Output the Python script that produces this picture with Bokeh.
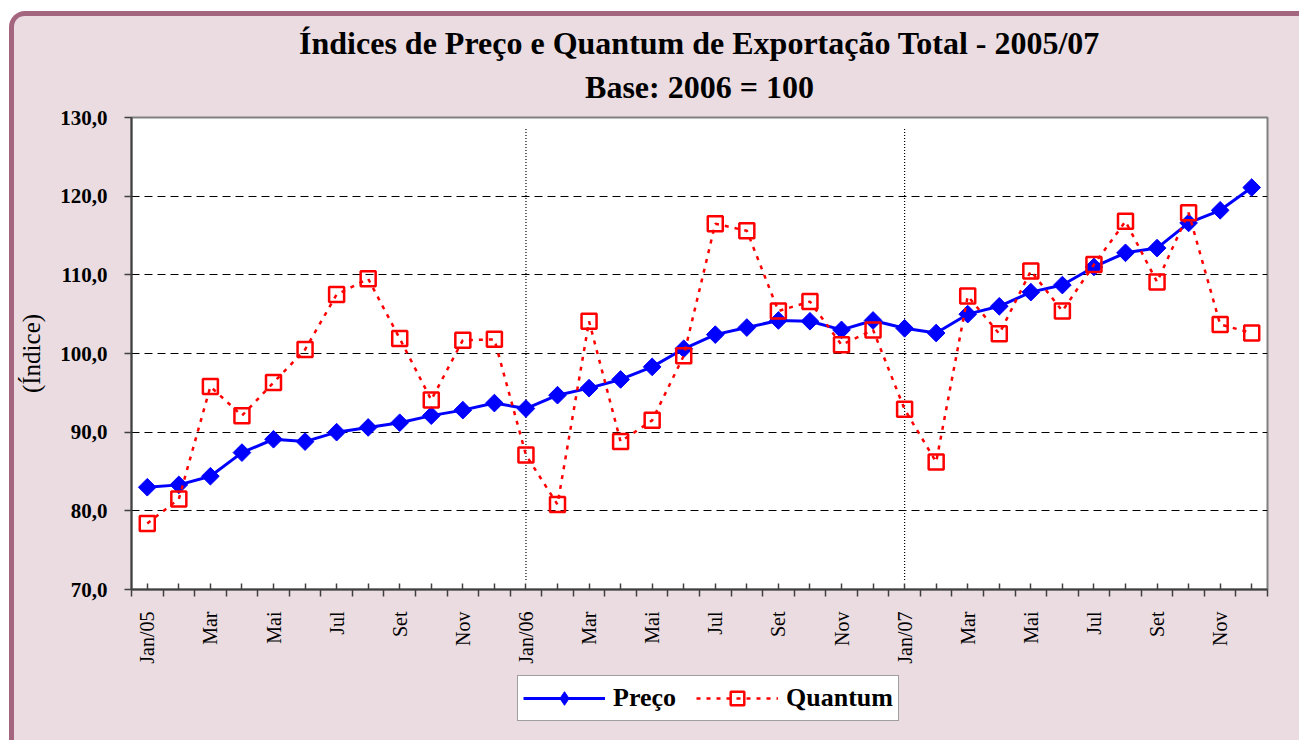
import numpy as np
from bokeh.plotting import figure
from bokeh.layouts import column
from bokeh.models import (ColumnDataSource, FixedTicker, Range1d, Title, Legend,
                          LegendItem)
from bokeh.embed import file_html
from bokeh.resources import INLINE

months = ["Jan/05", "Fev", "Mar", "Abr", "Mai", "Jun", "Jul", "Ago", "Set", "Out", "Nov", "Dez",
          "Jan/06", "Fev", "Mar", "Abr", "Mai", "Jun", "Jul", "Ago", "Set", "Out", "Nov", "Dez",
          "Jan/07", "Fev", "Mar", "Abr", "Mai", "Jun", "Jul", "Ago", "Set", "Out", "Nov", "Dez"]

preco = [83.0, 83.3, 84.4, 87.4, 89.1, 88.8, 90.0, 90.6, 91.2, 92.1, 92.8, 93.7,
         93.0, 94.7, 95.6, 96.7, 98.3, 100.6, 102.4, 103.3, 104.2, 104.1, 103.0, 104.2,
         103.2, 102.6, 105.0, 106.0, 107.8, 108.7, 111.0, 112.8, 113.4, 116.6, 118.2, 121.1]

quantum = [78.4, 81.5, 95.8, 92.1, 96.3, 100.5, 107.5, 109.5, 101.9, 94.1, 101.7, 101.8,
           87.1, 80.8, 104.1, 88.8, 91.5, 99.7, 116.5, 115.6, 105.4, 106.6, 101.1, 103.0,
           92.9, 86.2, 107.3, 102.5, 110.5, 105.4, 111.3, 116.8, 109.1, 117.9, 103.7, 102.6]

y_ticks = [70, 80, 90, 100, 110, 120, 130]
y_tick_labels = ["70,0", "80,0", "90,0", "100,0", "110,0", "120,0", "130,0"]

title_text = "Índices de Preço e Quantum de Exportação Total - 2005/07"
subtitle_text = "Base: 2006 = 100"
series_names = ["Preço", "Quantum"]

x = list(range(len(months)))
src = ColumnDataSource(dict(x=x, preco=preco, quantum=quantum))

FONT = "Liberation Serif"
BG = "#EADCE1"
W = 1285

p = figure(width=W, height=650, output_backend="svg", toolbar_location=None,
           x_range=Range1d(-0.5, len(months) - 0.5), y_range=Range1d(y_ticks[0], y_ticks[-1]),
           min_border_left=117, min_border_right=32, min_border_top=101, min_border_bottom=75,
           background_fill_color="white", border_fill_color=BG,
           outline_line_color="#808080", outline_line_width=2)
p.title = None

p.add_layout(Title(text=subtitle_text, align="center", text_font=FONT,
                   text_font_size="32px", text_font_style="bold", text_color="black",
                   standoff=25), "above")
p.add_layout(Title(text=title_text, align="center", text_font=FONT,
                   text_font_size="32px", text_font_style="bold", text_color="black",
                   standoff=-12), "above")

# x axis: small inner ticks at every month, outer ticks at month boundaries,
# labels every two months
p.xaxis.ticker = FixedTicker(ticks=x, minor_ticks=[i - 0.5 for i in x] + [len(x) - 0.5])
p.xaxis.major_label_overrides = {i: (months[i] if i % 2 == 0 else "") for i in x}
p.xaxis.major_label_orientation = np.pi / 2
p.xaxis.major_tick_out = 0
p.xaxis.major_tick_in = 6
p.xaxis.major_tick_line_color = "#404040"
p.xaxis.major_tick_line_width = 1.5
p.xaxis.minor_tick_out = 7
p.xaxis.minor_tick_in = 0
p.xaxis.minor_tick_line_color = "#404040"
p.xaxis.minor_tick_line_width = 1.5
p.xaxis.major_label_text_font = FONT
p.xaxis.major_label_text_font_size = "20px"
p.xaxis.major_label_text_color = "black"
p.xaxis.major_label_standoff = 15
p.xaxis.axis_line_color = "#404040"
p.xaxis.axis_line_width = 2

p.yaxis.ticker = FixedTicker(ticks=y_ticks)
p.yaxis.major_label_overrides = dict(zip(y_ticks, y_tick_labels))
p.yaxis.major_tick_out = 7
p.yaxis.major_tick_in = 0
p.yaxis.minor_tick_out = 0
p.yaxis.minor_tick_in = 0
p.yaxis.major_tick_line_color = "#404040"
p.yaxis.major_tick_line_width = 1.5
p.yaxis.major_label_text_font = FONT
p.yaxis.major_label_text_font_size = "21px"
p.yaxis.major_label_text_font_style = "bold"
p.yaxis.major_label_text_color = "black"
p.yaxis.major_label_standoff = 17
p.yaxis.axis_line_color = "#404040"
p.yaxis.axis_line_width = 2
p.yaxis.axis_label = "(Índice)"
p.yaxis.axis_label_text_font = FONT
p.yaxis.axis_label_text_font_size = "25px"
p.yaxis.axis_label_text_font_style = "normal"
p.yaxis.axis_label_text_color = "black"
p.yaxis.axis_label_standoff = 12

p.xgrid.grid_line_color = None
p.ygrid.ticker = FixedTicker(ticks=y_ticks[1:-1])
p.ygrid.grid_line_color = "black"
p.ygrid.grid_line_dash = "8 5"
p.ygrid.grid_line_width = 1

# year separators
sep_x = [i for i in x if i > 0 and months[i].startswith("Jan/")]
p.segment(x0=sep_x, x1=sep_x, y0=[y_ticks[0] + 1.2] * len(sep_x), y1=[y_ticks[-1] - 1.3] * len(sep_x),
          line_color="black", line_width=1.2, line_dash="1 2")


def draw_series(fig, source, preco_marker="square", preco_angle=np.pi / 4):
    l1 = fig.line("x", "preco", source=source, line_color="#0000FF", line_width=3)
    m1 = fig.scatter("x", "preco", source=source, marker=preco_marker, angle=preco_angle, size=12.5,
                     fill_color="#0000FF", line_color="#0000FF", line_width=1)
    l2 = fig.line("x", "quantum", source=source, line_color="#FF0000", line_width=2.5, line_dash="4 6")
    m2 = fig.scatter("x", "quantum", source=source, marker="square", size=15,
                     fill_color=None, line_color="#FF0000", line_width=2.5)
    return l1, m1, l2, m2


draw_series(p, src)

# legend strip below the chart (its own small canvas so it is not clipped);
# its ranges keep the proxy series out of view, only the legend shows
LH = 724 - 650
q = figure(width=W, height=LH, output_backend="svg", toolbar_location=None,
           x_range=Range1d(-1000, -999), y_range=Range1d(-1000, -999),
           x_axis_type=None, y_axis_type=None,
           min_border_left=0, min_border_right=0, min_border_top=0, min_border_bottom=0,
           background_fill_color=BG, border_fill_color=BG, outline_line_color=None)
q.title = None
q.xgrid.grid_line_color = None
q.ygrid.grid_line_color = None
r1, r2, r3, r4 = draw_series(q, src, preco_marker="diamond", preco_angle=0)

legend = Legend(items=[LegendItem(label=series_names[0], renderers=[r1, r2]),
                       LegendItem(label=series_names[1], renderers=[r3, r4])],
                orientation="horizontal", location=(386, 19),
                label_text_font=FONT, label_text_font_size="26px", label_text_font_style="bold",
                label_text_color="black", glyph_width=82, glyph_height=34, label_standoff=8,
                spacing=20, padding=5, margin=0,
                border_line_color="#404040", border_line_width=1.5,
                background_fill_color="white", background_fill_alpha=1)
q.add_layout(legend, "center")

layout = column(p, q, spacing=0)
layout.styles = {"margin-left": "9px", "margin-top": "11px", "background-color": BG,
                 "border-left": "5px solid #A3667E", "border-top": "5px solid #A3667E",
                 "border-top-left-radius": "16px", "overflow": "hidden"}

open("out.html", "w").write(file_html(layout, INLINE))
